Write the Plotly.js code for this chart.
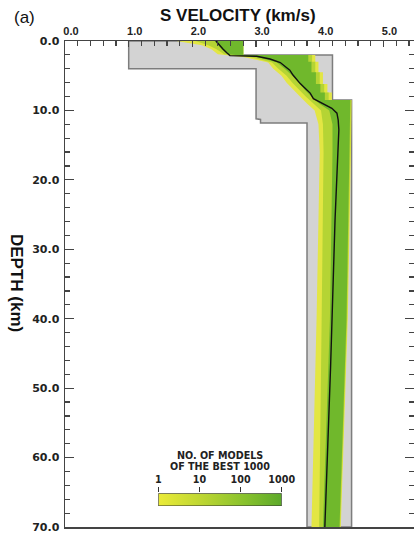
<!DOCTYPE html>
<html>
<head>
<meta charset="utf-8">
<script src="https://cdn.plot.ly/plotly-3.0.1.min.js"></script>
<style>html,body{margin:0;padding:0;background:#fff;}#chart{width:414px;height:533px;}</style>
</head>
<body>
<div id="chart"></div>
<script>
// Search bounds (gray region)
const boundVel   = [1.0, 2.78, 2.78, 4.2, 4.2, 4.5, 4.5, 3.8, 3.8, 3.07, 3.07, 3.0, 3.0, 1.0, 1.0];
const boundDepth = [0, 0, 2.0, 2.0, 8.5, 8.5, 70, 70, 11.8, 11.8, 11.3, 11.2, 4.0, 4.0, 0];

// Model-density envelope: left edges
const leftDepth = [0, 0.6, 1.2, 1.9, 2.3, 2.7, 3.1, 4.0, 5.0, 6.0, 7.0, 8.0, 9.0, 10.0, 12.0, 16.0, 40.0, 70.0];
const outerLeft = [1.75, 2.15, 2.30, 2.40, 2.80, 3.00, 3.19, 3.27, 3.40, 3.48, 3.58, 3.69, 3.80, 3.92, 3.98, 4.00, 3.95, 3.87];
const midLeft   = [2.05, 2.25, 2.38, 2.50, 2.90, 3.08, 3.25, 3.35, 3.48, 3.57, 3.67, 3.78, 3.90, 4.02, 4.05, 4.06, 4.03, 3.99];
const innerLeft = [2.35, 2.40, 2.46, 2.56, 3.00, 3.18, 3.33, 3.45, 3.57, 3.67, 3.76, 3.87, 3.99, 4.15, 4.20, 4.20, 4.16, 4.05];

// Model-density envelope: right edges
const rightDepth = [0, 2.0, 2.0, 3.0, 3.0, 4.5, 4.5, 6.2, 6.2, 7.4, 7.4, 8.5, 8.5, 16, 40, 70];
const outerRight = [2.80, 2.80, 3.93, 3.93, 3.98, 3.98, 4.05, 4.05, 4.12, 4.12, 4.19, 4.19, 4.50, 4.49, 4.44, 4.33];
const midRight   = [2.80, 2.80, 3.88, 3.88, 3.93, 3.93, 4.00, 4.00, 4.07, 4.07, 4.14, 4.14, 4.49, 4.48, 4.43, 4.32];
const innerRight = [2.80, 2.80, 3.82, 3.82, 3.87, 3.87, 3.94, 3.94, 4.01, 4.01, 4.08, 4.08, 4.48, 4.47, 4.42, 4.31];

// Best model (black line)
const bestDepth = [0, 0.6, 1.15, 1.7, 2.1, 2.2, 2.6, 3.1, 4.2, 4.9, 6.1, 6.8, 7.5, 8.3, 8.7, 9.2, 9.7, 10.4, 11.4, 12.8, 25.8, 47, 70];
const bestVel   = [2.37, 2.42, 2.48, 2.54, 2.59, 3.01, 3.22, 3.38, 3.53, 3.58, 3.69, 3.77, 3.85, 3.90, 3.98, 4.08, 4.19, 4.27, 4.29, 4.30, 4.24, 4.17, 4.08];

// Colour scale legend
const legendTickVals = [0, 1, 2, 3];
const legendTickText = ['1', '10', '100', '1000'];

function band(left, right) {
  return {
    x: left.concat(right.slice().reverse()),
    y: leftDepth.concat(rightDepth.slice().reverse())
  };
}
const outer = band(outerLeft, outerRight);
const mid = band(midLeft, midRight);
const inner = band(innerLeft, innerRight);

const traces = [
  {x: boundVel, y: boundDepth, type: 'scatter', mode: 'lines', fill: 'toself',
   fillcolor: '#d3d3d3', line: {color: '#7d7d7d', width: 1.5}, hoverinfo: 'skip'},
  {x: outer.x, y: outer.y, type: 'scatter', mode: 'lines', fill: 'toself',
   fillcolor: '#e3e643', line: {width: 0}, hoverinfo: 'skip'},
  {x: mid.x, y: mid.y, type: 'scatter', mode: 'lines', fill: 'toself',
   fillcolor: '#b5d434', line: {width: 0}, hoverinfo: 'skip'},
  {x: inner.x, y: inner.y, type: 'scatter', mode: 'lines', fill: 'toself',
   fillcolor: '#70b82c', line: {width: 0}, hoverinfo: 'skip'},
  {x: bestVel, y: bestDepth, type: 'scatter', mode: 'lines',
   line: {color: '#111', width: 1.4}, hoverinfo: 'skip'},
  {x: [0, 3, 3, 0, 0], y: [0, 0, 1, 1, 0], xaxis: 'x2', yaxis: 'y2', type: 'scatter', mode: 'lines',
   fill: 'toself', line: {color: '#333', width: 1},
   fillgradient: {type: 'horizontal', colorscale: [[0, '#ebeb38'], [0.35, '#bdd632'], [0.7, '#88c22d'], [1, '#5ca92a']]},
   hoverinfo: 'skip'}
];

const plotL = 65, plotW = 349, plotT = 41, plotH = 486;
const px2x = p => (p - plotL) / plotW;
const py2y = p => (plotT + plotH - p) / plotH;

const layout = {
  width: 414, height: 533,
  margin: {l: plotL, r: 0, t: plotT, b: 533 - plotT - plotH},
  paper_bgcolor: '#fff', plot_bgcolor: '#fff',
  showlegend: false,
  xaxis: {
    range: [0, 5.48], side: 'top', dtick: 1, tickformat: '.1f',
    showgrid: false, zeroline: false, showline: true, linecolor: '#444', linewidth: 1.5, mirror: true,
    ticks: 'inside', ticklen: 6, tickcolor: '#444', tickwidth: 1.2,
    minor: {dtick: 0.2, ticks: 'inside', ticklen: 5, tickcolor: '#444', tickwidth: 1.2, showgrid: false},
    tickfont: {family: 'Liberation Sans, Arial, sans-serif', size: 11, color: '#222', weight: 'bold'},
    ticklabelshift: 6, ticklabelstandoff: 0, ticklabeloverflow: 'allow'
  },
  yaxis: {
    range: [70, 0], dtick: 10, tickformat: '.1f',
    showgrid: false, zeroline: false, showline: true, linecolor: '#444', linewidth: 1.5, mirror: 'ticks',
    ticks: 'inside', ticklen: 9, tickcolor: '#444', tickwidth: 1.2,
    minor: {dtick: 2, ticks: 'inside', ticklen: 5, tickcolor: '#444', tickwidth: 1.2, showgrid: false},
    tickfont: {family: 'DejaVu Sans, sans-serif', size: 11, color: '#222', weight: 'bold'},
    ticklabelstandoff: 2, ticklabeloverflow: 'allow'
  },
  xaxis2: {
    domain: [px2x(158.3), px2x(281.7)], anchor: 'y2', range: [0, 3], side: 'top',
    tickvals: legendTickVals, ticktext: legendTickText,
    showgrid: false, zeroline: false, showline: false,
    ticks: 'outside', ticklen: 5, tickcolor: '#333', tickwidth: 1,
    tickfont: {family: 'DejaVu Sans, sans-serif', size: 9.6, color: '#222', weight: 'bold'},
    ticklabelstandoff: 0
  },
  yaxis2: {
    domain: [py2y(506), py2y(493.3)], anchor: 'x2', range: [0, 1], visible: false
  },
  annotations: [
    {text: '(a)', xref: 'paper', yref: 'paper', x: px2x(12), y: py2y(17), xanchor: 'left', yanchor: 'middle',
     showarrow: false, font: {family: 'Liberation Sans, Arial, sans-serif', size: 17, color: '#111'}},
    {text: 'S VELOCITY (km/s)', xref: 'paper', yref: 'paper', x: px2x(237.5), y: py2y(15.5), xanchor: 'center', yanchor: 'middle',
     showarrow: false, font: {family: 'Liberation Sans, Arial, sans-serif', size: 17, color: '#111', weight: 'bold'}},
    {text: 'DEPTH (km)', xref: 'paper', yref: 'paper', x: px2x(17), y: py2y(283), xanchor: 'center', yanchor: 'middle',
     textangle: 90, showarrow: false, font: {family: 'Liberation Sans, Arial, sans-serif', size: 17, color: '#111', weight: 'bold'}},
    {text: 'NO. OF MODELS', xref: 'paper', yref: 'paper', x: px2x(220), y: py2y(455), xanchor: 'center', yanchor: 'middle',
     showarrow: false, font: {family: 'DejaVu Sans, sans-serif', size: 9.6, color: '#222', weight: 'bold'}},
    {text: 'OF THE BEST 1000', xref: 'paper', yref: 'paper', x: px2x(220), y: py2y(466), xanchor: 'center', yanchor: 'middle',
     showarrow: false, font: {family: 'DejaVu Sans, sans-serif', size: 9.6, color: '#222', weight: 'bold'}}
  ]
};

Plotly.newPlot('chart', traces, layout, {displayModeBar: false, staticPlot: true});
</script>
</body>
</html>
